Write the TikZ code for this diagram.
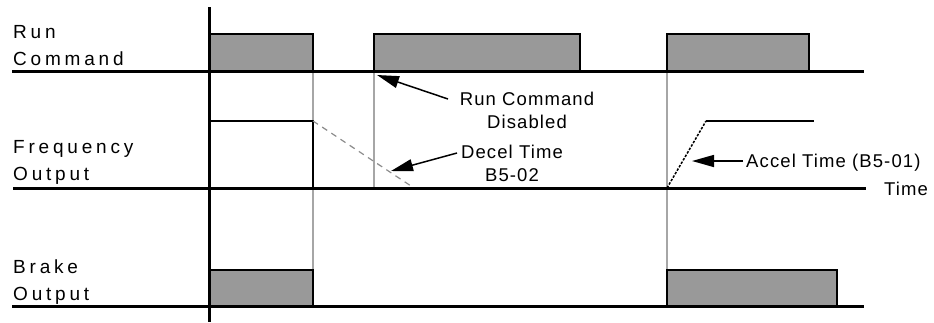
\documentclass[tikz,border=0pt]{standalone}
\usepackage{fontspec}
\setmainfont{Liberation Sans}
\newfontfamily\sidefont[LetterSpace=20]{Liberation Sans}
\newfontfamily\notefont[LetterSpace=6]{Liberation Sans}
\usetikzlibrary{arrows.meta}

\begin{document}
\begin{tikzpicture}[x=1pt,y=-1pt,
  signal/.style={line width=3pt},
  pulse/.style={draw=black,line width=1.8pt,fill=gray!80},
  guide/.style={draw=black!35,line width=1.2pt},
  sidelabel/.style={font=\sidefont\fontsize{19}{27}\selectfont,align=left,anchor=north west,inner sep=0pt},
  note/.style={font=\notefont\fontsize{18.5}{23}\selectfont,align=center,inner sep=0pt},
  pointer/.style={line width=1.5pt,-{Triangle[length=22pt,width=12pt]}}]
\useasboundingbox (0,0) rectangle (934,322);

% Guide lines
\draw[guide] (313,71) -- (313,306);
\draw[guide] (374,71) -- (374,188);
\draw[guide] (667,71) -- (667,306);

% Run command
\draw[pulse] (210,34) rectangle (313,71);
\draw[pulse] (374,34) rectangle (580,71);
\draw[pulse] (667,34) rectangle (809,71);
\draw[signal] (12,71) -- (864,71);

% Frequency output
\draw[line width=1.5pt] (210,121) -- (313,121) -- (313,188);
\draw[black!45,line width=1.2pt,dash pattern=on 6pt off 5pt] (313,121) -- (414,188);
\draw[line width=1.5pt,dash pattern=on 2.5pt off 1.5pt] (667,188) -- (706,121);
\draw[line width=1.5pt] (706,121) -- (814,121);
\draw[signal] (13,188) -- (866,188);

% Brake output
\draw[pulse] (210,270) rectangle (313,306);
\draw[pulse] (667,270) rectangle (837,306);
\draw[signal] (12,306) -- (864,306);

% Time axis
\draw[line width=3pt] (209,7) -- (209,322);

% Signal names
\node[sidelabel] (runlbl) at (13,25) {Run\\Command};
\node[sidelabel] (freqlbl) at (13,140) {Frequency\\Output};
\node[sidelabel] (brakelbl) at (13,260) {Brake\\Output};
\node[note,anchor=base west] (timelbl) at (884,195) {Time};

% Notes
\node[note,anchor=north] (disabled) at (527,92) {Run Command\\Disabled};
\node[note,anchor=north] (decel) at (512,145) {Decel Time\\B5-02};
\node[note,anchor=base west] (accel) at (746,167) {Accel Time (B5-01)};

\coordinate (disabledtail) at (448,99);
\coordinate (disabledtip) at (377,75);
\coordinate (deceltail) at (457,153);
\coordinate (deceltip) at (391,171);
\coordinate (acceltail) at (743,161);
\coordinate (acceltip) at (692,161);

\draw[pointer] (disabledtail) -- (disabledtip);
\draw[pointer] (deceltail) -- (deceltip);
\draw[pointer] (acceltail) -- (acceltip);
\end{tikzpicture}
\end{document}
